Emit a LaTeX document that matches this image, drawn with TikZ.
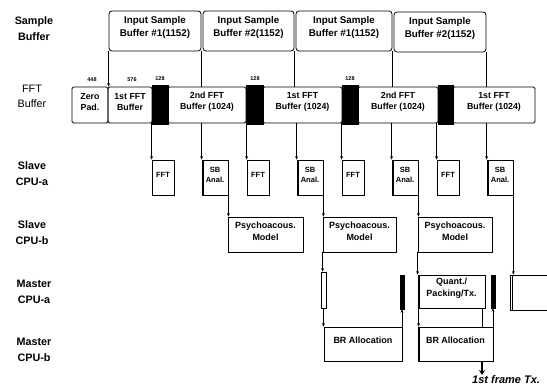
\documentclass[tikz,border=0pt]{standalone}
\usepackage{fontspec}
\setmainfont{Liberation Sans}
\usetikzlibrary{fit,arrows.meta}
\begin{document}
\begin{tikzpicture}[x=1pt,y=-1pt,
  bx/.style={draw, line width=0.8pt, inner sep=0pt, align=center},
  sbox/.style={bx, rounded corners=3pt, font=\bfseries\fontsize{9.8}{13}\selectfont},
  fbox/.style={bx, rounded corners=1.5pt, font=\bfseries\fontsize{8.8}{11.5}\selectfont},
  blk/.style={draw, fill=black, inner sep=0pt},
  smallbox/.style={bx, font=\bfseries\fontsize{7.5}{9.5}\selectfont},
  midbox/.style={bx, font=\bfseries\fontsize{9}{11.5}\selectfont},
  rowlab/.style={align=center, font=\bfseries\fontsize{10.8}{16}\selectfont},
  num/.style={font=\bfseries\fontsize{5.5}{6}\selectfont, inner sep=0pt},
  arr/.style={-{Stealth[length=3.5pt,width=3pt]}, line width=0.7pt},
  ln/.style={line width=0.7pt},
  thickl/.style={line width=2.5pt}
]
\useasboundingbox (0,0) rectangle (547,388);
\clip (0,0) rectangle (547,388);

% row labels
\node[rowlab] (lsb) at (34,29) {Sample\\Buffer};
\node[rowlab, font=\fontsize{10.8}{15}\selectfont] (lfb) at (32,96) {FFT\\Buffer};
\node[rowlab] (lsa) at (32,174) {Slave\\CPU-a};
\node[rowlab] (lsbb) at (32,233) {Slave\\CPU-b};
\node[rowlab] (lma) at (34,292) {Master\\CPU-a};
\node[rowlab] (lmb) at (34,350) {Master\\CPU-b};

% sample buffers
\node[sbox, fit={(109,11) (201,51)}] (sb1) {Input Sample\\Buffer \#1(1152)};
\node[sbox, fit={(203,11) (294,51)}] (sb2) {Input Sample\\Buffer \#2(1152)};
\node[sbox, fit={(296,11) (392,51)}] (sb3) {Input Sample\\Buffer \#1(1152)};
\node[sbox, fit={(394,12) (486,52)}] (sb4) {Input Sample\\Buffer \#2(1152)};

% FFT buffer row
\node[fbox, fit={(72,87) (108,123)}] (zp) {Zero\\Pad.};
\node[fbox, fit={(108,87) (152,123)}] (f1) {1st FFT\\Buffer};
\node[blk, fit={(152,85) (168,124)}] (k1) {};
\node[fbox, fit={(168,87) (246,123)}] (f2) {2nd FFT\\Buffer (1024)};
\node[blk, fit={(246,85) (263,124)}] (k2) {};
\node[fbox, fit={(263,87) (342,123)}] (f3) {1st FFT\\Buffer (1024)};
\node[blk, fit={(342,85) (358,124)}] (k3) {};
\node[fbox, fit={(358,87) (438,123)}] (f4) {2nd FFT\\Buffer (1024)};
\node[blk, fit={(438,85) (453,124)}] (k4) {};
\node[fbox, fit={(453,87) (535,123)}] (f5) {1st FFT\\Buffer (1024)};

\node[num] (n448) at (92,80) {448};
\node[num] (n576) at (132,80) {576};
\node[num] (n128a) at (160,79) {128};
\node[num] (n128b) at (255,79) {128};
\node[num] (n128c) at (350,79) {128};

% lines sample -> FFT
\draw[arr] (sb1.south west) -- (sb1.south west |- zp.north);
\draw[ln] (sb1.south east) -- (sb1.south east |- f2.north);
\draw[ln] (sb2.south east) -- (sb2.south east |- f3.north);
\draw[ln] (sb3.south east) -- (sb3.south east |- f4.north);
\draw[ln] (sb4.south east) -- (sb4.south east |- f5.north);

% slave CPU-a
\node[smallbox, fit={(152,160) (174,195)}] (a1) {FFT};
\node[smallbox, fit={(202,160) (228,195)}] (a2) {SB\\Anal.};
\node[smallbox, fit={(247,160) (269,195)}] (a3) {FFT};
\node[smallbox, fit={(297,160) (323,195)}] (a4) {SB\\Anal.};
\node[smallbox, fit={(342,160) (364,195)}] (a5) {FFT};
\node[smallbox, fit={(392,160) (418,195)}] (a6) {SB\\Anal.};
\node[smallbox, fit={(437,160) (459,195)}] (a7) {FFT};
\node[smallbox, fit={(487,160) (513,195)}] (a8) {SB\\Anal.};
\foreach \n in {a2,a4,a6,a8}{
  \draw[thickl] ([xshift=1.2pt]\n.north west) -- ([xshift=1.2pt]\n.south west);
}

% FFT -> slave-a
\draw[arr] (a1.north west |- f1.south) -- (a1.north west);
\draw[arr] (a2.north west |- f2.south) -- (a2.north west);
\draw[arr] (a3.north west |- f2.south) -- (a3.north west);
\draw[arr] (a4.north west |- f3.south) -- (a4.north west);
\draw[arr] (a5.north west |- f3.south) -- (a5.north west);
\draw[arr] (a6.north west |- f4.south) -- (a6.north west);
\draw[arr] (a7.north west |- f4.south) -- (a7.north west);
\draw[arr] (a8.north west |- f5.south) -- (a8.north west);

% slave CPU-b
\node[midbox, fit={(228,217) (303,252)}] (p1) {Psychoacous.\\Model};
\node[midbox, fit={(323,217) (396,252)}] (p2) {Psychoacous.\\Model};
\node[midbox, fit={(418,217) (492,252)}] (p3) {Psychoacous.\\Model};
\draw[arr] (a2.south east) -- (a2.south east |- p1.north);
\draw[arr] (a4.south east) -- (a4.south east |- p2.north);
\draw[arr] (a6.south east) -- (a6.south east |- p3.north);

% master CPU-a
\node[draw, line width=0.8pt, fill=white, inner sep=0pt, fit={(321,272) (326,308)}] (bar1) {};
\node[blk, fit={(400,275) (404,309)}] (bar2) {};
\node[midbox, fit={(418,275) (485,308)}] (q1) {Quant./\\Packing/Tx.};
\draw[thickl] ([xshift=1.2pt]q1.north west) -- ([xshift=1.2pt]q1.south west);
\node[blk, fit={(491,275) (495,308)}] (bar3) {};
\node[midbox, fit={(510,275) (570,310)}] (q2) {};
\draw[line width=0.8pt] ([xshift=3pt]q2.north west) -- ([xshift=3pt]q2.south west);

\draw[arr] (p2.south west) -- (p2.south west |- bar1.north);
\draw[arr] (p3.south west) -- (p3.south west |- q1.north);
\draw[arr] (a8.south east) -- (a8.south east |- q2.north);

% master CPU-b
\node[midbox, fit={(324,327) (402,361)}] (br1) {BR Allocation};
\node[midbox, fit={(418,327) (493,361)}] (br2) {BR Allocation};
\draw[thickl] ([xshift=1.2pt]br2.north west) -- ([xshift=1.2pt]br2.south west);

\draw[arr] (bar1.south) -- (bar1.south |- br1.north);
\draw[arr] (bar2.south |- br1.north) -- (bar2.south);
\draw[arr] ([xshift=1pt]q1.south west) -- ([xshift=1pt]q1.south west |- br2.north);
\draw[ln] ([xshift=-3pt]q1.south east) -- ([xshift=-3pt]q1.south east |- br2.north);
\draw[arr] (bar3.south |- br2.north) -- (bar3.south);

% output
\coordinate (out) at (482,375);
\draw[-{Stealth[length=5pt,width=6pt]}, line width=2pt] (out |- br2.south) -- (out);
\node[font=\bfseries\itshape\fontsize{11}{13}\selectfont, anchor=west, inner sep=0pt] (lab) at (472,380) {1st frame Tx.};
\end{tikzpicture}
\end{document}
